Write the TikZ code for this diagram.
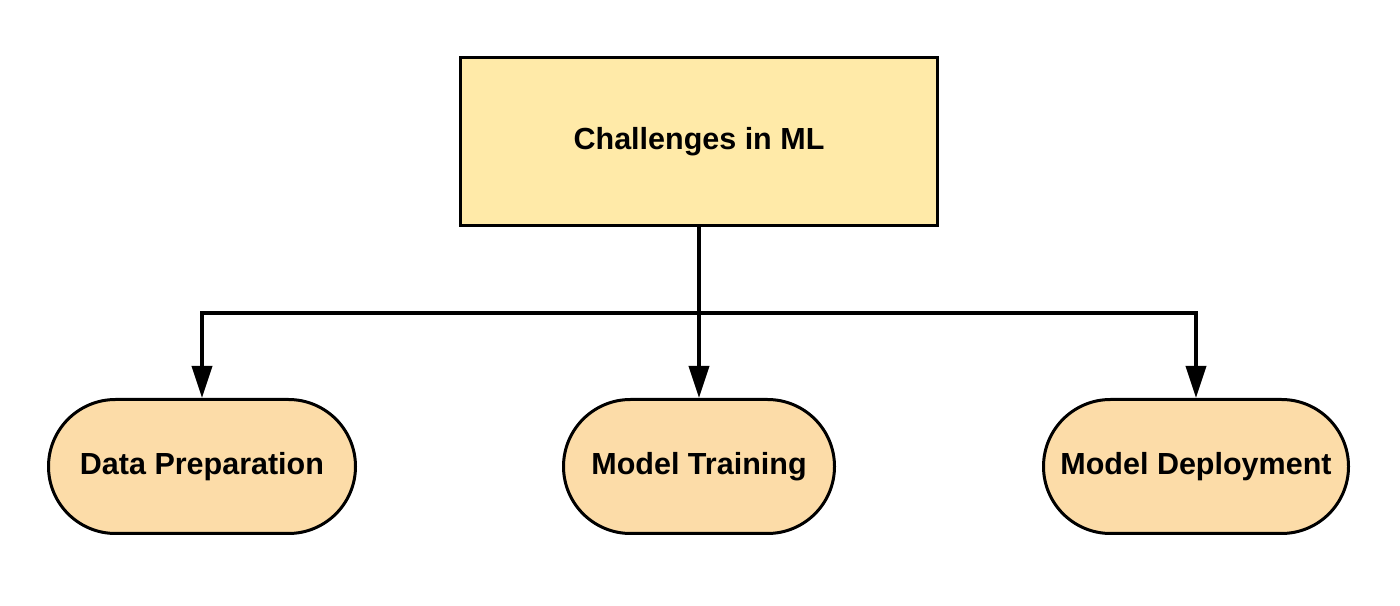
\documentclass[tikz,border=0pt]{standalone}
\usepackage{fontspec}
\setmainfont{Liberation Sans}
\usetikzlibrary{arrows.meta}
\definecolor{topfill}{HTML}{FFEAA8}
\definecolor{leaffill}{HTML}{FCDCA8}
\begin{document}
\begin{tikzpicture}[x=1pt,y=1pt,
  lbl/.style={font=\fontsize{30.5}{36}\selectfont\bfseries, text=black},
  topbox/.style={lbl, draw=black, line width=3pt, fill=topfill, rectangle, minimum width=477pt, minimum height=168pt, inner sep=0pt},
  leaf/.style={lbl, draw=black, line width=3pt, fill=leaffill, rectangle, rounded corners=67pt, minimum height=134pt, inner sep=0pt},
  conn/.style={draw=black, line width=3.8pt},
  arr/.style={conn, -{Triangle[length=32pt,width=20pt]}}]
\useasboundingbox (0,0) rectangle (1400,605);
\node[topbox] (top) at (699,463.5) {Challenges in ML};
\node[leaf, minimum width=307pt] (dp) at (202,138.5) {Data Preparation};
\node[leaf, minimum width=271pt] (mt) at (699,138.5) {Model Training};
\node[leaf, minimum width=305pt] (md) at (1196,138.5) {Model Deployment};
\coordinate (j) at (699,292);
\draw[conn] (top.south) -- (j);
\draw[arr] (j) -| (dp.north);
\draw[arr] (j) -- (mt.north);
\draw[arr] (j) -| (md.north);
\end{tikzpicture}
\end{document}
